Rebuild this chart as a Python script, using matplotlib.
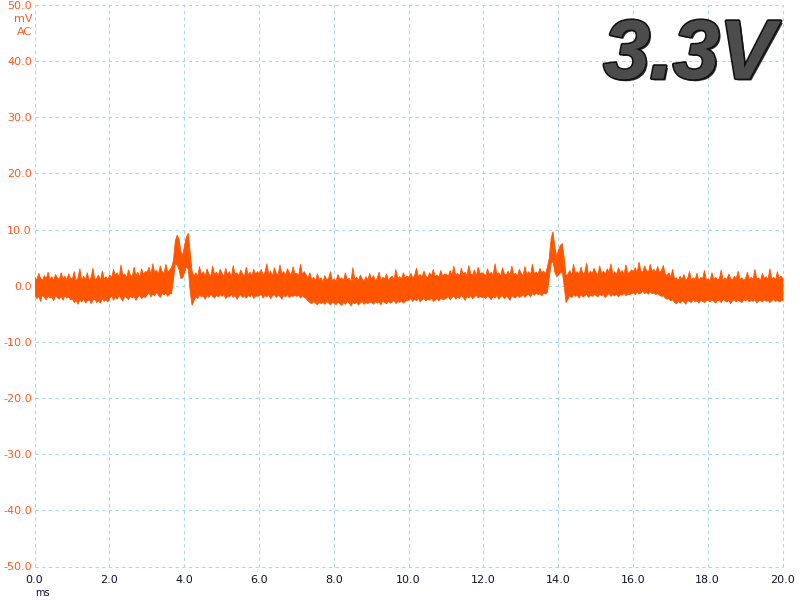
import numpy as np
import matplotlib
matplotlib.use("Agg")
import matplotlib.pyplot as plt
import matplotlib.patheffects as pe

# ---- data ----
x_ticks = [0.0, 2.0, 4.0, 6.0, 8.0, 10.0, 12.0, 14.0, 16.0, 18.0, 20.0]
y_ticks = [-50.0, -40.0, -30.0, -20.0, -10.0, 0.0, 10.0, 20.0, 30.0, 40.0, 50.0]
x_unit = "ms"
y_unit = ["mV", "AC"]
title_text = "3.3V"
sample_step_ms = 0.05

# upper edge of the trace (mV), one row per millisecond, 0.05 ms apart
upper = [
    1.6, 1.1, 2.3, 1.4, 1.0, 1.9, 1.3, 2.5, 1.2, 1.7, 1.0, 2.1, 1.5, 1.2, 2.4, 1.3, 1.8, 1.1, 2.2, 1.4,
    1.3, 2.6, 0.9, 1.5, 3.1, 1.0, 1.8, 1.2, 2.4, 0.9, 1.6, 3.2, 1.1, 1.4, 2.0, 1.0, 2.7, 1.3, 1.7, 1.2,
    2.0, 1.5, 3.0, 1.9, 2.4, 1.6, 3.8, 1.8, 2.2, 1.5, 2.9, 2.0, 1.7, 3.4, 1.9, 2.5, 1.6, 3.1, 2.1, 2.6,
    2.5, 3.4, 2.1, 4.0, 2.4, 2.8, 2.2, 3.6, 2.6, 2.3, 3.9, 2.5, 2.9, 3.3, 4.5, 8.0, 9.1, 8.4, 6.2, 5.5,
    7.3, 8.8, 9.4, 6.0, 2.6, 1.8, 2.4, 1.7, 3.5, 2.0, 2.6, 1.8, 3.1, 2.2, 1.7, 3.6, 2.1, 2.5, 1.9, 3.0,
    2.3, 1.8, 3.2, 2.0, 2.6, 1.7, 3.7, 2.1, 2.4, 1.9, 2.9, 2.2, 1.8, 3.4, 2.0, 2.5, 1.9, 3.0, 2.1, 2.6,
    2.2, 3.0, 1.9, 2.5, 4.0, 2.1, 2.7, 1.8, 3.3, 2.3, 2.0, 3.8, 2.2, 2.6, 1.9, 3.1, 2.4, 2.0, 3.5, 2.2,
    2.3, 1.9, 3.9, 2.1, 2.6, 2.0, 1.5, 2.4, 1.1, 1.6, 0.9, 2.2, 1.2, 1.5, 0.8, 1.9, 1.1, 1.4, 2.6, 1.0,
    1.3, 0.9, 2.1, 1.2, 1.5, 1.0, 2.4, 1.1, 1.4, 0.9, 3.3, 1.2, 1.6, 1.0, 2.0, 1.3, 0.9, 1.7, 1.1, 2.3,
    1.2, 1.9, 1.0, 1.4, 2.5, 1.1, 1.6, 1.3, 2.2, 1.0, 1.5, 1.8, 1.2, 3.0, 1.4, 1.7, 1.3, 2.4, 1.5, 1.8,
    1.6, 2.3, 1.5, 1.9, 3.2, 1.7, 2.1, 1.6, 2.7, 1.8, 1.5, 2.4, 1.9, 3.0, 1.7, 2.0, 1.6, 2.8, 1.8, 2.2,
    2.1, 1.7, 2.8, 2.0, 3.6, 1.9, 2.3, 1.8, 3.2, 2.1, 2.5, 1.9, 3.7, 2.2, 2.0, 2.9, 1.8, 3.4, 2.2, 2.4,
    2.2, 1.8, 3.1, 2.0, 2.5, 1.9, 4.0, 2.1, 2.4, 1.8, 3.3, 2.2, 2.0, 2.7, 1.9, 3.6, 2.1, 2.3, 1.8, 3.0,
    2.3, 1.9, 3.5, 2.1, 2.6, 2.0, 3.9, 2.2, 2.5, 2.1, 3.2, 2.4, 2.7, 2.2, 3.4, 5.0, 8.5, 9.7, 7.0, 5.3,
    6.5, 7.3, 7.6, 5.0, 1.8, 2.2, 2.8, 2.0, 3.9, 2.3, 2.6, 2.1, 3.4, 2.2, 2.5, 4.1, 2.0, 2.7, 2.3, 3.2,
    2.4, 2.0, 3.6, 2.2, 2.7, 2.1, 3.1, 2.5, 4.0, 2.2, 2.6, 2.0, 3.3, 2.4, 2.8, 2.1, 3.8, 2.3, 2.5, 2.9,
    2.6, 3.3, 2.4, 4.3, 2.7, 2.5, 3.6, 2.8, 2.4, 3.9, 2.6, 3.0, 2.5, 3.5, 2.4, 2.8, 3.7, 2.2, 1.9, 2.4,
    1.6, 3.0, 1.3, 1.5, 1.0, 1.8, 1.2, 2.1, 1.0, 1.4, 2.6, 1.1, 1.5, 1.2, 2.3, 1.0, 1.6, 1.3, 2.8, 1.2,
    1.3, 1.0, 2.4, 1.2, 1.6, 1.1, 1.4, 2.9, 1.0, 1.5, 1.2, 2.2, 1.4, 1.1, 1.8, 1.3, 2.7, 1.2, 1.5, 1.0,
    1.4, 2.5, 1.1, 1.6, 1.2, 3.0, 1.3, 1.5, 1.0, 2.3, 1.4, 1.7, 1.2, 3.1, 1.3, 1.6, 1.1, 2.6, 1.4, 1.8,
    1.3,
]

# lower edge of the trace (mV)
lower = [
    -1.6, -2.2, -1.8, -2.7, -1.5, -2.0, -2.4, -1.7, -2.1, -1.9, -2.6, -1.6, -2.0, -2.3, -1.8, -2.5, -1.7, -2.1, -1.9, -2.4,
    -2.3, -2.9, -2.5, -3.2, -2.4, -2.8, -2.2, -3.0, -2.6, -2.4, -3.1, -2.5, -2.3, -2.9, -2.6, -3.0, -2.2, -2.7, -2.4, -2.8,
    -2.1, -1.7, -2.5, -1.9, -2.3, -1.6, -2.2, -2.6, -1.8, -2.0, -2.4, -1.7, -2.1, -1.8, -2.5, -1.9, -1.6, -2.2, -1.8, -2.0,
    -1.5, -1.2, -1.9, -1.4, -1.7, -1.1, -1.6, -2.0, -1.3, -1.5, -1.2, -1.8, -1.4, -1.3, 1.0, 4.0, 3.8, 3.0, 1.4, 1.5,
    2.5, 3.5, 3.0, -1.0, -3.4, -2.6, -1.8, -2.2, -1.5, -1.9, -1.7, -2.3, -1.6, -2.0, -1.4, -1.8, -2.1, -1.6, -1.9, -1.5,
    -1.8, -1.5, -2.2, -1.7, -1.9, -1.4, -2.0, -1.6, -2.3, -1.8, -1.5, -2.0, -1.7, -2.1, -1.6, -1.9, -1.4, -2.2, -1.7, -1.8,
    -1.7, -1.4, -2.1, -1.6, -1.9, -1.5, -2.2, -1.7, -1.5, -2.0, -1.6, -1.8, -2.3, -1.6, -1.9, -1.5, -2.0, -1.7, -1.8, -1.6,
    -1.8, -1.6, -2.1, -1.7, -2.0, -2.2, -2.6, -2.9, -3.1, -2.7, -3.0, -3.3, -2.8, -3.1, -2.9, -3.2, -2.7, -3.0, -3.3, -2.9,
    -3.0, -3.3, -2.8, -3.1, -3.4, -2.9, -3.2, -2.7, -3.0, -3.5, -2.9, -3.1, -2.8, -3.3, -3.0, -2.7, -3.2, -2.9, -3.1, -2.8,
    -2.9, -3.2, -2.7, -3.0, -2.8, -3.3, -2.6, -2.9, -3.1, -2.7, -3.0, -2.8, -2.5, -3.1, -2.7, -2.9, -2.6, -3.0, -2.7, -2.5,
    -2.5, -2.2, -2.7, -2.3, -2.6, -2.1, -2.8, -2.4, -2.2, -2.6, -2.3, -2.5, -2.0, -2.7, -2.4, -2.2, -2.6, -2.1, -2.4, -2.3,
    -2.1, -1.8, -2.4, -2.0, -1.7, -2.3, -1.9, -2.2, -1.6, -2.0, -2.5, -1.8, -2.1, -1.7, -2.2, -1.9, -1.6, -2.1, -1.8, -2.0,
    -1.9, -2.2, -1.7, -2.0, -2.4, -1.8, -2.1, -1.6, -2.3, -1.9, -1.7, -2.2, -1.8, -2.0, -2.5, -1.7, -1.9, -2.1, -1.6, -2.0,
    -1.8, -1.5, -2.0, -1.6, -1.4, -1.9, -1.3, -1.6, -1.2, -1.5, -1.3, -1.7, -1.2, -1.4, -1.1, 1.5, 4.0, 4.5, 2.5, 1.7,
    2.0, 2.4, 2.6, 0.0, -2.9, -2.3, -1.7, -2.0, -1.5, -1.8, -1.6, -2.1, -1.5, -1.9, -1.7, -1.4, -2.0, -1.6, -1.8, -1.5,
    -1.6, -1.9, -1.4, -1.7, -1.5, -2.0, -1.6, -1.3, -1.8, -1.5, -1.7, -1.4, -1.9, -1.5, -1.6, -1.2, -1.7, -1.4, -1.5, -1.3,
    -1.2, -1.5, -1.0, -1.4, -1.2, -0.9, -1.3, -1.1, -1.4, -1.0, -1.3, -1.2, -1.5, -1.3, -1.6, -1.8, -1.7, -2.1, -2.3, -2.2,
    -2.6, -2.4, -2.9, -3.1, -2.7, -3.0, -2.6, -2.8, -3.2, -2.5, -2.7, -2.9, -2.4, -2.8, -2.6, -3.0, -2.5, -2.7, -2.9, -2.6,
    -2.5, -2.8, -2.4, -2.7, -3.0, -2.5, -2.6, -2.9, -2.3, -2.6, -2.8, -2.5, -3.1, -2.6, -2.4, -2.8, -2.5, -2.7, -2.9, -2.4,
    -2.6, -2.3, -2.8, -2.5, -2.7, -2.4, -3.0, -2.6, -2.5, -2.8, -2.4, -2.7, -2.5, -2.9, -2.6, -2.3, -2.7, -2.5, -2.8, -2.6,
    -2.5,
]

# ---- figure ----
W, H, DPI = 800, 600, 100
fig = plt.figure(figsize=(W / DPI, H / DPI), dpi=DPI)
fig.patch.set_facecolor("white")
ax = fig.add_axes([34.5 / W, (H - 566.5) / H, 748.0 / W, 561.5 / H])

trace_color = "#FF5500"
t = np.arange(len(upper)) * sample_step_ms
ax.fill_between(t, lower, upper, color=trace_color, linewidth=0.6,
                edgecolor=trace_color, zorder=3)

ax.set_xlim(x_ticks[0], x_ticks[-1])
ax.set_ylim(y_ticks[0], y_ticks[-1])
ax.set_xticks(x_ticks)
ax.set_yticks(y_ticks)
ax.set_xticklabels([f"{v:.1f}" for v in x_ticks])
ax.set_yticklabels([f"{v:.1f}" for v in y_ticks])

for s in ax.spines.values():
    s.set_visible(False)

grid_color = "#A8D8E8"
ax.grid(True, color=grid_color, linestyle=(0, (3, 3)), linewidth=0.8, zorder=0)
for ln in ax.get_xgridlines() + ax.get_ygridlines():
    ln.set_clip_on(False)

ax.tick_params(axis="both", length=0)
ax.tick_params(axis="y", pad=2, labelsize=8, labelcolor="#FF5a1f")
ax.tick_params(axis="x", pad=6, labelsize=8, labelcolor="#101030")
for lab in ax.get_xticklabels() + ax.get_yticklabels():
    lab.set_family("DejaVu Sans")

# unit labels
ax.text(-0.003, 0.975, y_unit[0], transform=ax.transAxes, ha="right", va="center",
        fontsize=8, color="#FF5a1f")
ax.text(-0.003, 0.952, y_unit[1], transform=ax.transAxes, ha="right", va="center",
        fontsize=8, color="#FF5a1f")
ax.text(0.011, -0.047, x_unit, transform=ax.transAxes, ha="center", va="center",
        fontsize=7, color="#101030")

# big voltage label
ax.text(0.99, 0.978, title_text, transform=ax.transAxes, ha="right", va="top",
        fontsize=60, fontweight="bold", fontstyle="italic", family="Liberation Sans",
        color="#4c4c4c", zorder=5,
        path_effects=[pe.withSimplePatchShadow(offset=(1.5, -1.5), shadow_rgbFace="#000000", alpha=0.8),
                      pe.withStroke(linewidth=2.5, foreground="#111111"),
                      pe.Normal()])

fig.savefig("out.png", dpi=DPI, facecolor="white")
